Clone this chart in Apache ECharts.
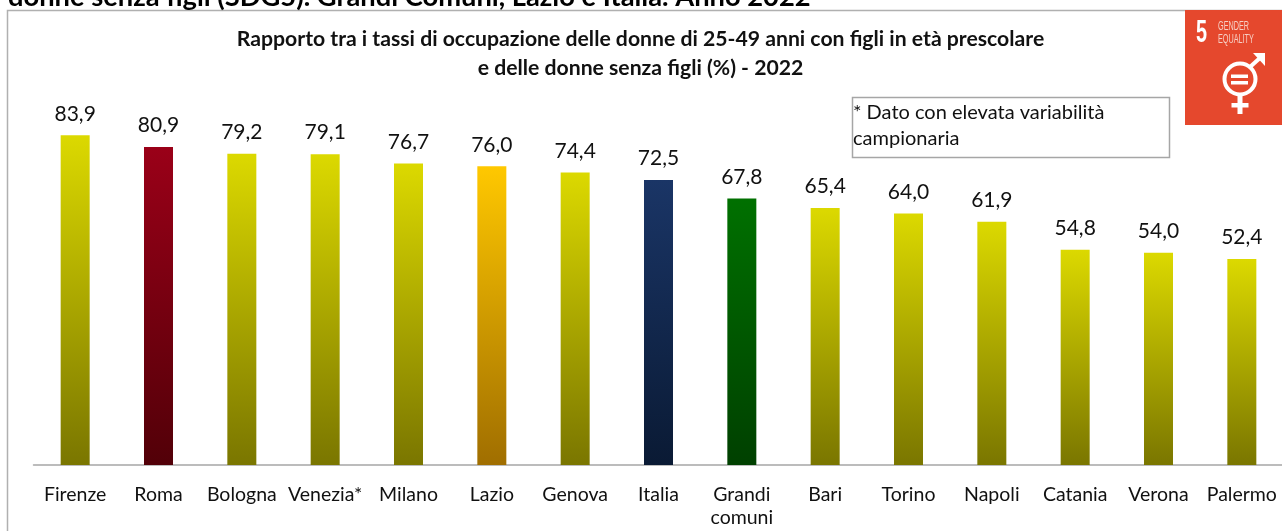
<!DOCTYPE html>
<html><head><meta charset="utf-8">
<style>html,body{margin:0;padding:0;background:#fff;overflow:hidden}#c{width:1282px;height:531px}</style>
<script src="https://cdn.jsdelivr.net/npm/echarts@6/dist/echarts.min.js"></script></head>
<body><div id="c"></div>
<script>
const categories=['Firenze','Roma','Bologna','Venezia*','Milano','Lazio','Genova','Italia','Grandi\ncomuni','Bari','Torino','Napoli','Catania','Verona','Palermo'];
const values=[83.9,80.9,79.2,79.1,76.7,76.0,74.4,72.5,67.8,65.4,64.0,61.9,54.8,54.0,52.4];
const topColors=['#dcd900','#9a0018','#dcd900','#dcd900','#dcd900','#ffc800','#dcd900','#1a3566','#007000','#dcd900','#dcd900','#dcd900','#dcd900','#dcd900','#dcd900'];
const bottomColors=['#7a7600','#520008','#7a7600','#7a7600','#7a7600','#a06e00','#7a7600','#0a1a34','#004000','#7a7600','#7a7600','#7a7600','#7a7600','#7a7600','#7a7600'];
const titleLines=['Rapporto tra i tassi di occupazione delle donne di 25-49 anni con figli in età prescolare','e delle donne senza figli (%) - 2022'];
const heading='donne senza figli (SDG5). Grandi Comuni, Lazio e Italia. Anno 2022';
const noteLines=['* Dato con elevata variabilità','campionaria'];
const F='Lato';
const chart=echarts.init(document.getElementById('c'),null,{renderer:'canvas'});
chart.setOption({
 animation:false,backgroundColor:'#fff',
 grid:{left:33.5,width:1250,top:72,height:393,containLabel:false,outerBoundsMode:'none'},
 xAxis:{type:'category',data:categories,axisTick:{show:false},
  axisLine:{lineStyle:{color:'#a6a6a6',width:1.5}},
  axisLabel:{interval:0,color:'#111',fontFamily:F,fontSize:19.5,margin:18,lineHeight:23,hideOverlap:false}},
 yAxis:{type:'value',min:0,max:100,show:false,splitLine:{show:false}},
 series:[{type:'bar',barWidth:29,
  data:values.map((v,i)=>({value:v,itemStyle:{color:{type:'linear',x:0,y:0,x2:0,y2:1,colorStops:[{offset:0,color:topColors[i]},{offset:1,color:bottomColors[i]}]}}})),
  label:{show:true,position:'top',distance:11,color:'#111',fontFamily:F,fontSize:21,formatter:p=>p.value.toFixed(1).replace('.',',')}}],
 graphic:[
  {type:'rect',shape:{x:7.5,y:10.5,width:1300,height:560},style:{fill:'none',stroke:'#b0b0b0',lineWidth:1.5},z:0},
  {type:'text',x:8,y:-16,style:{text:heading,fill:'#000',font:'bold 27.3px Lato'},z:5},
  {type:'text',x:640.5,y:28.5,style:{text:titleLines[0],fill:'#111',font:'bold 21.2px Lato',textAlign:'center'},z:5},
  {type:'text',x:640.5,y:57.5,style:{text:titleLines[1],fill:'#111',font:'bold 21.2px Lato',textAlign:'center'},z:5},
  {type:'rect',shape:{x:852.5,y:97.5,width:317,height:60},style:{fill:'#fff',stroke:'#a6a6a6',lineWidth:1.5},z:5},
  {type:'text',x:853,y:102.5,style:{text:noteLines[0],fill:'#111',font:'20px Lato'},z:6},
  {type:'text',x:853,y:128.5,style:{text:noteLines[1],fill:'#111',font:'20px Lato'},z:6},
  {type:'rect',shape:{x:1185,y:10,width:97,height:115},style:{fill:'#e5482d'},z:7},
  {type:'text',x:1196,y:17,scaleX:0.62,style:{text:'5',fill:'#fff',font:'bold 32px "Liberation Sans"'},z:8},
  {type:'text',x:1218,y:20,scaleX:0.58,style:{text:'GENDER',fill:'#f6cfc4',font:'12.5px "Liberation Sans"'},z:8},
  {type:'text',x:1218,y:33,scaleX:0.58,style:{text:'EQUALITY',fill:'#f6cfc4',font:'12.5px "Liberation Sans"'},z:8},
  {type:'circle',shape:{cx:1240,cy:79,r:15.5},style:{fill:'none',stroke:'#fff',lineWidth:4},z:8},
  {type:'rect',shape:{x:1231,y:74.5,width:17,height:3.5},style:{fill:'#fff'},z:8},
  {type:'rect',shape:{x:1231,y:81,width:17,height:3.5},style:{fill:'#fff'},z:8},
  {type:'rect',shape:{x:1237.5,y:96,width:5,height:18},style:{fill:'#fff'},z:8},
  {type:'rect',shape:{x:1231.5,y:103,width:17,height:4.5},style:{fill:'#fff'},z:8},
  {type:'line',shape:{x1:1250,y1:67,x2:1261,y2:57},style:{stroke:'#fff',lineWidth:4},z:8},
  {type:'polygon',shape:{points:[[1253,53],[1265,53],[1265,66]]},style:{fill:'#fff'},z:8}
 ]
});
</script></body></html>
